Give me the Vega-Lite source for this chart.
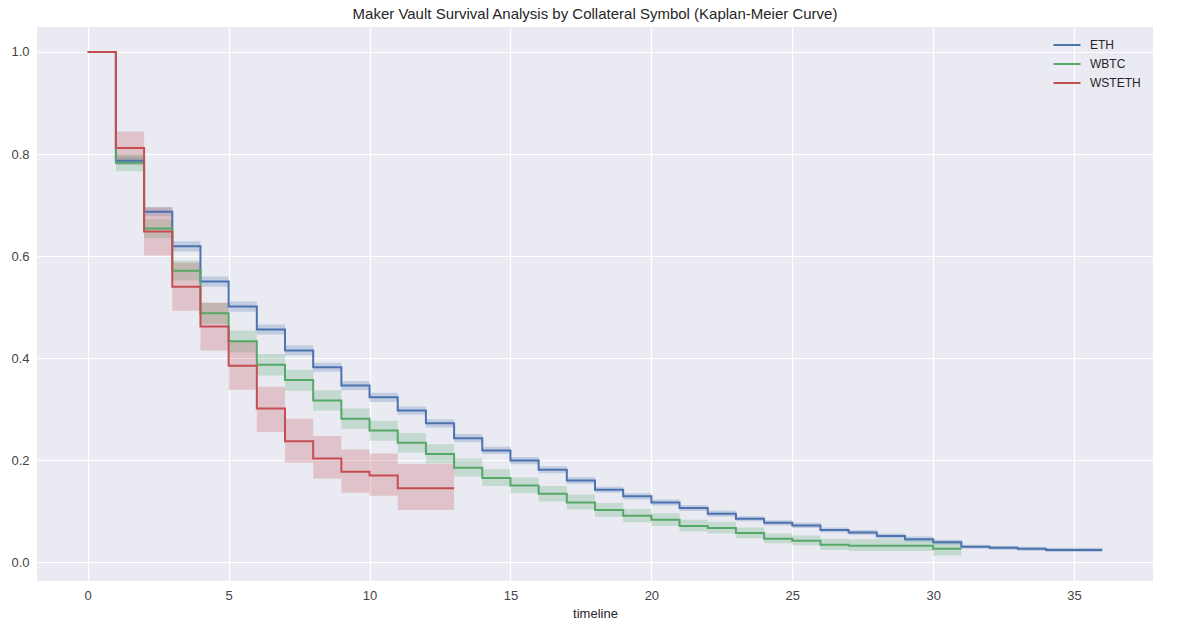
{
  "$schema": "https://vega.github.io/schema/vega-lite/v6.json",
  "width": 1116,
  "height": 554,
  "autosize": {"type": "none"},
  "padding": {"left": 37, "top": 27, "right": 26, "bottom": 45},
  "background": "white",
  "title": {
    "text": "Maker Vault Survival Analysis by Collateral Symbol (Kaplan-Meier Curve)",
    "font": "Liberation Sans",
    "fontSize": 15,
    "fontWeight": "normal",
    "color": "#262626",
    "anchor": "middle",
    "offset": 5
  },
  "config": {
    "view": {"fill": "#EAEAF2", "stroke": null},
    "axis": {
      "grid": true,
      "gridColor": "white",
      "gridWidth": 1.2,
      "domain": false,
      "ticks": false,
      "labelFont": "Liberation Sans",
      "labelFontSize": 13,
      "labelColor": "#444444",
      "titleFont": "Liberation Sans",
      "titleFontSize": 13,
      "titleFontWeight": "normal",
      "titleColor": "#262626",
      "labelPadding": 8
    }
  },
  "data": {
    "values": [
      {"symbol": "ETH", "t": 0, "s": 1.0, "lo": 1.0, "hi": 1.0},
      {"symbol": "ETH", "t": 1, "s": 0.787, "lo": 0.779, "hi": 0.795},
      {"symbol": "ETH", "t": 2, "s": 0.687, "lo": 0.678, "hi": 0.696},
      {"symbol": "ETH", "t": 3, "s": 0.619, "lo": 0.609, "hi": 0.629},
      {"symbol": "ETH", "t": 4, "s": 0.550, "lo": 0.540, "hi": 0.560},
      {"symbol": "ETH", "t": 5, "s": 0.501, "lo": 0.491, "hi": 0.511},
      {"symbol": "ETH", "t": 6, "s": 0.456, "lo": 0.446, "hi": 0.466},
      {"symbol": "ETH", "t": 7, "s": 0.415, "lo": 0.405, "hi": 0.425},
      {"symbol": "ETH", "t": 8, "s": 0.382, "lo": 0.373, "hi": 0.391},
      {"symbol": "ETH", "t": 9, "s": 0.346, "lo": 0.337, "hi": 0.355},
      {"symbol": "ETH", "t": 10, "s": 0.323, "lo": 0.314, "hi": 0.332},
      {"symbol": "ETH", "t": 11, "s": 0.297, "lo": 0.289, "hi": 0.305},
      {"symbol": "ETH", "t": 12, "s": 0.272, "lo": 0.264, "hi": 0.280},
      {"symbol": "ETH", "t": 13, "s": 0.243, "lo": 0.235, "hi": 0.251},
      {"symbol": "ETH", "t": 14, "s": 0.219, "lo": 0.212, "hi": 0.226},
      {"symbol": "ETH", "t": 15, "s": 0.199, "lo": 0.192, "hi": 0.206},
      {"symbol": "ETH", "t": 16, "s": 0.181, "lo": 0.174, "hi": 0.188},
      {"symbol": "ETH", "t": 17, "s": 0.160, "lo": 0.153, "hi": 0.167},
      {"symbol": "ETH", "t": 18, "s": 0.142, "lo": 0.136, "hi": 0.148},
      {"symbol": "ETH", "t": 19, "s": 0.129, "lo": 0.123, "hi": 0.135},
      {"symbol": "ETH", "t": 20, "s": 0.117, "lo": 0.111, "hi": 0.123},
      {"symbol": "ETH", "t": 21, "s": 0.106, "lo": 0.100, "hi": 0.112},
      {"symbol": "ETH", "t": 22, "s": 0.095, "lo": 0.089, "hi": 0.101},
      {"symbol": "ETH", "t": 23, "s": 0.085, "lo": 0.080, "hi": 0.090},
      {"symbol": "ETH", "t": 24, "s": 0.077, "lo": 0.072, "hi": 0.082},
      {"symbol": "ETH", "t": 25, "s": 0.072, "lo": 0.067, "hi": 0.077},
      {"symbol": "ETH", "t": 26, "s": 0.063, "lo": 0.058, "hi": 0.068},
      {"symbol": "ETH", "t": 27, "s": 0.058, "lo": 0.053, "hi": 0.063},
      {"symbol": "ETH", "t": 28, "s": 0.051, "lo": 0.046, "hi": 0.056},
      {"symbol": "ETH", "t": 29, "s": 0.045, "lo": 0.040, "hi": 0.050},
      {"symbol": "ETH", "t": 30, "s": 0.039, "lo": 0.034, "hi": 0.044},
      {"symbol": "ETH", "t": 31, "s": 0.030, "lo": 0.026, "hi": 0.034},
      {"symbol": "ETH", "t": 32, "s": 0.028, "lo": 0.024, "hi": 0.032},
      {"symbol": "ETH", "t": 33, "s": 0.026, "lo": 0.022, "hi": 0.030},
      {"symbol": "ETH", "t": 34, "s": 0.024, "lo": 0.020, "hi": 0.028},
      {"symbol": "ETH", "t": 35, "s": 0.024, "lo": 0.020, "hi": 0.028},
      {"symbol": "ETH", "t": 36, "s": 0.024, "lo": 0.020, "hi": 0.028},
      {"symbol": "WBTC", "t": 0, "s": 1.0, "lo": 1.0, "hi": 1.0},
      {"symbol": "WBTC", "t": 1, "s": 0.783, "lo": 0.766, "hi": 0.800},
      {"symbol": "WBTC", "t": 2, "s": 0.654, "lo": 0.635, "hi": 0.672},
      {"symbol": "WBTC", "t": 3, "s": 0.571, "lo": 0.552, "hi": 0.591},
      {"symbol": "WBTC", "t": 4, "s": 0.488, "lo": 0.467, "hi": 0.508},
      {"symbol": "WBTC", "t": 5, "s": 0.433, "lo": 0.411, "hi": 0.454},
      {"symbol": "WBTC", "t": 6, "s": 0.387, "lo": 0.366, "hi": 0.408},
      {"symbol": "WBTC", "t": 7, "s": 0.357, "lo": 0.336, "hi": 0.377},
      {"symbol": "WBTC", "t": 8, "s": 0.317, "lo": 0.297, "hi": 0.337},
      {"symbol": "WBTC", "t": 9, "s": 0.281, "lo": 0.261, "hi": 0.301},
      {"symbol": "WBTC", "t": 10, "s": 0.258, "lo": 0.238, "hi": 0.277},
      {"symbol": "WBTC", "t": 11, "s": 0.234, "lo": 0.215, "hi": 0.253},
      {"symbol": "WBTC", "t": 12, "s": 0.212, "lo": 0.194, "hi": 0.231},
      {"symbol": "WBTC", "t": 13, "s": 0.185, "lo": 0.168, "hi": 0.203},
      {"symbol": "WBTC", "t": 14, "s": 0.165, "lo": 0.149, "hi": 0.182},
      {"symbol": "WBTC", "t": 15, "s": 0.150, "lo": 0.135, "hi": 0.166},
      {"symbol": "WBTC", "t": 16, "s": 0.134, "lo": 0.119, "hi": 0.149},
      {"symbol": "WBTC", "t": 17, "s": 0.117, "lo": 0.103, "hi": 0.132},
      {"symbol": "WBTC", "t": 18, "s": 0.102, "lo": 0.089, "hi": 0.116},
      {"symbol": "WBTC", "t": 19, "s": 0.091, "lo": 0.078, "hi": 0.104},
      {"symbol": "WBTC", "t": 20, "s": 0.083, "lo": 0.071, "hi": 0.096},
      {"symbol": "WBTC", "t": 21, "s": 0.071, "lo": 0.060, "hi": 0.083},
      {"symbol": "WBTC", "t": 22, "s": 0.067, "lo": 0.056, "hi": 0.079},
      {"symbol": "WBTC", "t": 23, "s": 0.057, "lo": 0.047, "hi": 0.068},
      {"symbol": "WBTC", "t": 24, "s": 0.046, "lo": 0.037, "hi": 0.056},
      {"symbol": "WBTC", "t": 25, "s": 0.042, "lo": 0.033, "hi": 0.052},
      {"symbol": "WBTC", "t": 26, "s": 0.034, "lo": 0.024, "hi": 0.046},
      {"symbol": "WBTC", "t": 27, "s": 0.032, "lo": 0.022, "hi": 0.045},
      {"symbol": "WBTC", "t": 28, "s": 0.032, "lo": 0.022, "hi": 0.045},
      {"symbol": "WBTC", "t": 29, "s": 0.032, "lo": 0.022, "hi": 0.045},
      {"symbol": "WBTC", "t": 30, "s": 0.026, "lo": 0.013, "hi": 0.042},
      {"symbol": "WBTC", "t": 31, "s": 0.026, "lo": 0.013, "hi": 0.042},
      {"symbol": "WSTETH", "t": 0, "s": 1.0, "lo": 1.0, "hi": 1.0},
      {"symbol": "WSTETH", "t": 1, "s": 0.812, "lo": 0.780, "hi": 0.844},
      {"symbol": "WSTETH", "t": 2, "s": 0.648, "lo": 0.601, "hi": 0.695},
      {"symbol": "WSTETH", "t": 3, "s": 0.540, "lo": 0.493, "hi": 0.587},
      {"symbol": "WSTETH", "t": 4, "s": 0.462, "lo": 0.415, "hi": 0.509},
      {"symbol": "WSTETH", "t": 5, "s": 0.385, "lo": 0.338, "hi": 0.432},
      {"symbol": "WSTETH", "t": 6, "s": 0.301, "lo": 0.255, "hi": 0.344},
      {"symbol": "WSTETH", "t": 7, "s": 0.237, "lo": 0.195, "hi": 0.281},
      {"symbol": "WSTETH", "t": 8, "s": 0.203, "lo": 0.164, "hi": 0.247},
      {"symbol": "WSTETH", "t": 9, "s": 0.177, "lo": 0.136, "hi": 0.221},
      {"symbol": "WSTETH", "t": 10, "s": 0.170, "lo": 0.130, "hi": 0.213},
      {"symbol": "WSTETH", "t": 11, "s": 0.145, "lo": 0.102, "hi": 0.193},
      {"symbol": "WSTETH", "t": 12, "s": 0.145, "lo": 0.102, "hi": 0.193},
      {"symbol": "WSTETH", "t": 13, "s": 0.145, "lo": 0.102, "hi": 0.193}
    ]
  },
  "encoding": {
    "x": {
      "field": "t",
      "type": "quantitative",
      "title": "timeline",
      "scale": {"domain": [-1.8, 37.8], "nice": false, "zero": false},
      "axis": {"values": [0, 5, 10, 15, 20, 25, 30, 35], "titlePadding": 5}
    }
  },
  "layer": [
    {
      "mark": {"type": "area", "interpolate": "step-after", "opacity": 0.25},
      "encoding": {
        "y": {
          "field": "lo",
          "type": "quantitative",
          "scale": {"domain": [-0.037, 1.049], "nice": false, "zero": false},
          "axis": {"values": [0, 0.2, 0.4, 0.6, 0.8, 1.0], "format": ".1f", "title": null}
        },
        "y2": {"field": "hi"},
        "fill": {
          "field": "symbol",
          "type": "nominal",
          "scale": {"range": ["#4C72B0", "#55A868", "#C44E52"]},
          "legend": null
        }
      }
    },
    {
      "mark": {"type": "line", "interpolate": "step-after", "strokeWidth": 2},
      "encoding": {
        "y": {"field": "s", "type": "quantitative"},
        "color": {
          "field": "symbol",
          "type": "nominal",
          "scale": {"domain": ["ETH", "WBTC", "WSTETH"], "range": ["#4C72B0", "#55A868", "#C44E52"]},
          "legend": {
            "title": null,
            "orient": "none",
            "legendX": 1019,
            "legendY": 7,
            "padding": 0,
            "symbolType": "M-1.35,0H1.35",
            "symbolSize": 400,
            "symbolStrokeWidth": 2,
            "labelFont": "Liberation Sans",
            "labelFontSize": 12,
            "labelColor": "#262626",
            "labelOffset": 12,
            "rowPadding": 2
          }
        }
      }
    }
  ]
}
